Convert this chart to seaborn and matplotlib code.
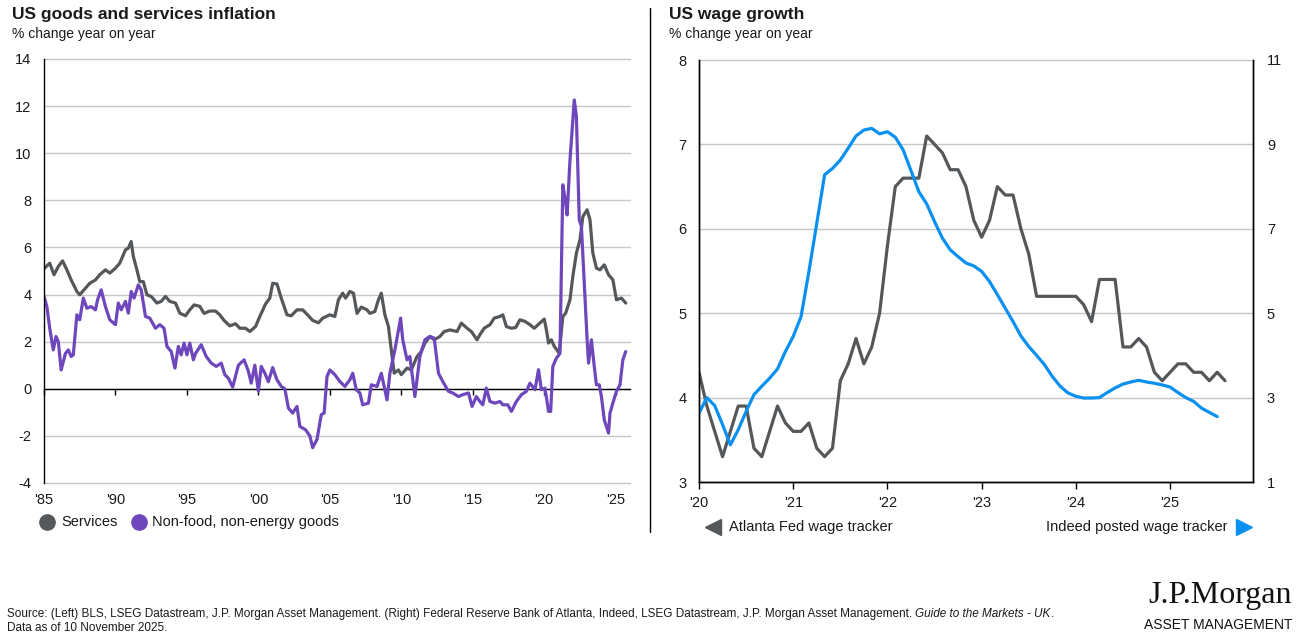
import matplotlib
matplotlib.use("Agg")
import matplotlib.pyplot as plt
import seaborn as sns
import pandas as pd
from matplotlib import font_manager
from matplotlib.lines import Line2D

# ---------------- data ----------------
svc_year = [1985.0, 1985.4, 1985.7, 1986.0, 1986.3, 1986.6, 1986.9, 1987.3, 1987.5, 1987.9,
            1988.2, 1988.6, 1988.9, 1989.3, 1989.6, 1990.0, 1990.3, 1990.7, 1990.9, 1991.1,
            1991.25, 1991.5, 1991.7, 1991.95, 1992.2, 1992.5, 1992.9, 1993.2, 1993.5, 1993.8,
            1994.2, 1994.5, 1994.9, 1995.2, 1995.5, 1995.9, 1996.2, 1996.6, 1997.0, 1997.3,
            1997.6, 1998.0, 1998.4, 1998.7, 1999.1, 1999.4, 1999.8, 2000.1, 2000.5, 2000.8,
            2001.0, 2001.3, 2001.6, 2002.0, 2002.3, 2002.7, 2003.1, 2003.5, 2003.8, 2004.2,
            2004.5, 2005.0, 2005.35, 2005.6, 2005.9, 2006.1, 2006.4, 2006.65, 2006.9, 2007.2,
            2007.6, 2007.8, 2008.15, 2008.4, 2008.6, 2008.85, 2009.1, 2009.3, 2009.5, 2009.8,
            2010.0, 2010.4, 2010.7, 2011.1, 2011.4, 2011.65, 2012.0, 2012.3, 2012.7, 2013.0,
            2013.4, 2013.9, 2014.2, 2014.6, 2014.9, 2015.3, 2015.5, 2015.8, 2016.2, 2016.5,
            2016.9, 2017.1, 2017.35, 2017.7, 2018.0, 2018.3, 2018.65, 2019.0, 2019.3, 2019.7,
            2020.0, 2020.15, 2020.3, 2020.5, 2020.7, 2021.05, 2021.3, 2021.5, 2021.8, 2022.0,
            2022.25, 2022.5, 2022.7, 2023.0, 2023.2, 2023.4, 2023.65, 2023.9, 2024.2, 2024.5,
            2024.8, 2025.05, 2025.4, 2025.7]
svc_val = [5.1, 5.33, 4.84, 5.19, 5.43, 5.05, 4.62, 4.13, 3.99, 4.27,
           4.48, 4.62, 4.84, 5.05, 4.91, 5.12, 5.33, 5.9, 5.97, 6.25,
           5.62, 5.05, 4.55, 4.55, 3.99, 3.92, 3.64, 3.71, 3.92, 3.71,
           3.64, 3.21, 3.1, 3.35, 3.56, 3.5, 3.2, 3.3, 3.3, 3.14,
           2.9, 2.67, 2.76, 2.57, 2.57, 2.43, 2.64, 3.07, 3.6, 3.85,
           4.48, 4.45, 3.85, 3.14, 3.1, 3.35, 3.35, 3.1, 2.9, 2.8,
           3.0, 3.14, 3.07, 3.78, 4.06, 3.85, 4.13, 4.06, 3.2, 3.47,
           3.35, 3.2, 3.28, 3.78, 4.06, 3.14, 2.64, 1.65, 0.66, 0.8,
           0.6, 0.88, 0.8, 1.37, 1.58, 1.94, 2.22, 2.08, 2.22, 2.43,
           2.5, 2.43, 2.79, 2.57, 2.43, 2.08, 2.3, 2.57, 2.72, 3.0,
           3.07, 3.14, 2.64, 2.57, 2.6, 2.93, 2.86, 2.72, 2.57, 2.79,
           2.96, 2.5, 1.94, 2.08, 1.8, 1.51, 3.07, 3.21, 3.78, 4.77,
           5.76, 6.32, 7.31, 7.6, 7.17, 5.76, 5.12, 5.05, 5.26, 4.84,
           4.63, 3.78, 3.85, 3.64]

gds_year = [1985.0, 1985.2, 1985.4, 1985.65, 1985.84, 1986.0, 1986.2, 1986.5, 1986.7, 1986.9,
            1987.05, 1987.3, 1987.5, 1987.75, 1988.0, 1988.3, 1988.6, 1988.75, 1989.0, 1989.3,
            1989.6, 1990.0, 1990.2, 1990.4, 1990.7, 1990.9, 1991.1, 1991.3, 1991.6, 1991.8,
            1992.1, 1992.4, 1992.8, 1993.1, 1993.4, 1993.6, 1993.9, 1994.16, 1994.4, 1994.6,
            1994.8, 1995.0, 1995.2, 1995.45, 1995.6, 1996.0, 1996.35, 1996.7, 1997.05, 1997.4,
            1997.65, 1997.9, 1998.2, 1998.6, 1999.0, 1999.3, 1999.5, 1999.75, 2000.0, 2000.2,
            2000.45, 2000.7, 2001.0, 2001.3, 2001.6, 2001.85, 2002.1, 2002.4, 2002.7, 2002.9,
            2003.3, 2003.6, 2003.8, 2004.1, 2004.4, 2004.6, 2004.8, 2005.0, 2005.35, 2005.7,
            2006.05, 2006.4, 2006.6, 2006.85, 2007.1, 2007.3, 2007.7, 2007.9, 2008.3, 2008.6,
            2009.0, 2009.2, 2009.55, 2009.95, 2010.1, 2010.4, 2010.6, 2010.95, 2011.3, 2011.65,
            2012.0, 2012.3, 2012.6, 2012.9, 2013.3, 2013.6, 2014.0, 2014.3, 2014.7, 2014.95,
            2015.25, 2015.5, 2015.7, 2015.95, 2016.2, 2016.55, 2016.9, 2017.1, 2017.45, 2017.7,
            2018.05, 2018.4, 2018.75, 2019.0, 2019.35, 2019.6, 2019.8, 2020.05, 2020.3, 2020.45,
            2020.6, 2020.85, 2021.1, 2021.3, 2021.5, 2021.6, 2021.8, 2022.0, 2022.1, 2022.25,
            2022.45, 2022.6, 2022.8, 2023.0, 2023.1, 2023.3, 2023.5, 2023.65, 2023.85, 2024.0,
            2024.2, 2024.5, 2024.6, 2024.8, 2025.05, 2025.3, 2025.5, 2025.7]
gds_val = [3.93, 3.49, 2.57, 1.65, 2.22, 2.0, 0.8, 1.5, 1.65, 1.37,
           1.44, 3.14, 2.93, 3.85, 3.42, 3.49, 3.35, 3.78, 4.2, 3.49,
           2.93, 2.72, 3.64, 3.35, 3.71, 3.21, 4.13, 3.85, 4.41, 4.2,
           3.07, 3.0, 2.57, 2.72, 2.57, 1.8, 1.58, 0.88, 1.8, 1.44,
           1.94, 1.44, 1.94, 1.23, 1.5, 1.87, 1.37, 1.09, 0.95, 1.09,
           0.6, 0.45, 0.07, 1.0, 1.23, 0.74, 0.24, 1.0, -0.1, 0.95,
           0.66, 0.3, 0.9, 0.38, 0.1, 0.0, -0.82, -1.03, -0.75, -1.6,
           -1.74, -2.0, -2.5, -2.15, -1.1, -1.03, 0.52, 0.8, 0.6, 0.31,
           0.1, 0.38, 0.66, -0.04, -0.18, -0.68, -0.61, 0.17, 0.1, 0.66,
           -0.47, 0.66, 1.65, 3.0, 2.08, 1.23, 1.37, -0.33, 1.37, 2.08,
           2.22, 2.15, 0.66, 0.31, -0.11, -0.18, -0.33, -0.25, -0.18, -0.75,
           -0.33, -0.54, -0.68, 0.03, -0.54, -0.61, -0.54, -0.68, -0.68, -0.96,
           -0.54, -0.25, -0.11, 0.24, -0.04, 0.81, -0.04, 0.03, -0.96, -0.96,
           0.95, 1.3, 1.5, 8.66, 7.88, 7.38, 9.7, 11.4, 12.26, 11.55,
           7.17, 6.9, 4.5, 2.08, 1.09, 2.08, 0.95, 0.17, 0.17, -0.33,
           -1.32, -1.88, -1.03, -0.61, -0.11, 0.17, 1.23, 1.58]

left_xticks = [1985, 1990, 1995, 2000, 2005, 2010, 2015, 2020, 2025]
left_xlabels = ["'85", "'90", "'95", "'00", "'05", "'10", "'15", "'20", "'25"]

# monthly, starting Jan 2020
atl_start = 2020
atl_val = [4.3, 3.9, 3.6, 3.3, 3.6, 3.9, 3.9, 3.4, 3.3, 3.6, 3.9, 3.7,
           3.6, 3.6, 3.7, 3.4, 3.3, 3.4, 4.2, 4.4, 4.7, 4.4, 4.6, 5.0,
           5.8, 6.5, 6.6, 6.6, 6.6, 7.1, 7.0, 6.9, 6.7, 6.7, 6.5, 6.1,
           5.9, 6.1, 6.5, 6.4, 6.4, 6.0, 5.7, 5.2, 5.2, 5.2, 5.2, 5.2,
           5.2, 5.1, 4.9, 5.4, 5.4, 5.4, 4.6, 4.6, 4.7, 4.6, 4.3, 4.2,
           4.3, 4.4, 4.4, 4.3, 4.3, 4.2, 4.3, 4.2]
ind_val = [2.63, 3.0, 2.81, 2.36, 1.88, 2.24, 2.67, 3.07, 3.27, 3.46, 3.68, 4.09,
           4.45, 4.92, 5.99, 7.13, 8.28, 8.43, 8.63, 8.91, 9.2, 9.34, 9.38, 9.25,
           9.3, 9.17, 8.87, 8.38, 7.88, 7.59, 7.17, 6.78, 6.5, 6.34, 6.19, 6.12,
           5.99, 5.75, 5.44, 5.12, 4.8, 4.46, 4.21, 4.0, 3.78, 3.5, 3.27, 3.11,
           3.03, 2.99, 2.99, 3.0, 3.12, 3.23, 3.32, 3.37, 3.41, 3.37, 3.34, 3.3,
           3.25, 3.12, 3.0, 2.91, 2.75, 2.65, 2.55]
right_xticks = [2020, 2021, 2022, 2023, 2024, 2025]
right_xlabels = ["'20", "'21", "'22", "'23", "'24", "'25"]

# ---------------- style ----------------
sns.set_theme(style="white")
names = {f.name for f in font_manager.fontManager.ttflist}
NARROW = "Liberation Sans Narrow" if "Liberation Sans Narrow" in names else "Liberation Sans"
plt.rcParams["font.family"] = ["Liberation Sans", "DejaVu Sans"]
plt.rcParams["axes.unicode_minus"] = False

GRAY = "#55585B"
PURPLE = "#6E47BD"
BLUE = "#0A90F0"
GRID = "#C6C6C6"
TXT = "#1A1A1A"

W, H = 1303, 643
fig = plt.figure(figsize=(W / 100, H / 100), dpi=100)
fig.patch.set_facecolor("white")


def px(x, y):
    return x / W, 1 - y / H


# ---------------- left chart ----------------
ax1 = fig.add_axes([44 / W, 1 - 483 / H, 586 / W, 424 / H])
dsvc = pd.DataFrame({"year": svc_year, "val": svc_val})
dgds = pd.DataFrame({"year": gds_year, "val": gds_val})
sns.lineplot(data=dsvc, x="year", y="val", ax=ax1, color=GRAY, lw=2.3, estimator=None, sort=False)
sns.lineplot(data=dgds, x="year", y="val", ax=ax1, color=PURPLE, lw=2.3, estimator=None, sort=False)
ax1.set_xlim(1985, 2026)
ax1.set_ylim(-4, 14)
ax1.set_yticks(range(-4, 15, 2))
ax1.set_xlabel("")
ax1.set_ylabel("")
ax1.yaxis.grid(True, color=GRID, lw=1)
ax1.xaxis.grid(False)
ax1.set_axisbelow(True)
for s in ["top", "right"]:
    ax1.spines[s].set_visible(False)
ax1.spines["left"].set_color("black")
ax1.spines["left"].set_linewidth(1)
ax1.spines["bottom"].set_position(("data", 0))
ax1.spines["bottom"].set_color("black")
ax1.spines["bottom"].set_linewidth(1)
ax1.spines["bottom"].set_zorder(1.5)
ax1.set_xticks(left_xticks)
ax1.tick_params(axis="x", bottom=True, direction="out", length=4, width=1, color="black", labelbottom=False)
ax1.tick_params(axis="y", left=False, length=0, pad=9, labelsize=10.5, labelcolor=TXT)
for gl in ax1.get_ygridlines():
    gl.set_clip_on(False)
sec = ax1.secondary_xaxis("bottom")
sec.set_xticks(left_xticks, labels=left_xlabels)
sec.tick_params(length=0, pad=7, labelsize=10.5, labelcolor=TXT)
sec.spines["bottom"].set_visible(False)

# ---------------- right chart ----------------
ax2 = fig.add_axes([699 / W, 1 - 482 / H, 554 / W, 422 / H])
ax2r = ax2.twinx()
atl_x = [atl_start + i / 12 for i in range(len(atl_val))]
ind_x = [atl_start + i / 12 for i in range(len(ind_val))]
sns.lineplot(x=atl_x, y=atl_val, ax=ax2, color=GRAY, lw=2.3, estimator=None, sort=False)
sns.lineplot(x=ind_x, y=ind_val, ax=ax2r, color=BLUE, lw=2.3, estimator=None, sort=False)
ax2.set_xlim(2020, 2025.88)
ax2.set_ylim(3, 8)
ax2r.set_ylim(1, 11)
ax2.set_yticks(range(3, 9))
ax2r.set_yticks(range(1, 12, 2))
ax2.yaxis.grid(True, color=GRID, lw=1)
ax2.xaxis.grid(False)
ax2r.grid(False)
ax2.set_axisbelow(True)
for gl in ax2.get_ygridlines():
    gl.set_clip_on(False)
for a in (ax2, ax2r):
    a.spines["top"].set_visible(False)
    for s in ["left", "right", "bottom"]:
        a.spines[s].set_color("black")
        a.spines[s].set_linewidth(1)
ax2.set_xticks(right_xticks, labels=right_xlabels)
ax2.tick_params(axis="x", bottom=True, direction="out", length=5, width=1, color="black",
                pad=5, labelsize=10.5, labelcolor=TXT)
ax2.tick_params(axis="y", left=False, length=0, pad=9, labelsize=10.5, labelcolor=TXT)
ax2r.tick_params(axis="y", right=False, length=0, pad=10, labelsize=10.5, labelcolor=TXT)
ax2r.set_ylabel("")
ax2.set_ylabel("")

# ---------------- titles ----------------
fig.text(*px(12, 15), "US goods and services inflation", fontsize=12.5, fontweight="bold",
         color=TXT, va="center", ha="left")
fig.text(*px(12, 34), "% change year on year", fontsize=10, color=TXT, va="center", ha="left")
fig.text(*px(669, 15), "US wage growth", fontsize=12.5, fontweight="bold",
         color=TXT, va="center", ha="left")
fig.text(*px(669, 34), "% change year on year", fontsize=10, color=TXT, va="center", ha="left")

# divider
fig.add_artist(Line2D([650 / W, 650 / W], [1 - 8 / H, 1 - 532 / H], color="black", lw=1,
                      transform=fig.transFigure))

# ---------------- legends ----------------
fig.add_artist(Line2D([47 / W], [1 - 522 / H], marker="o", ms=11, color=GRAY, ls="",
                      transform=fig.transFigure))
fig.text(*px(61, 522), "Services", fontsize=10.5, color=TXT, va="center", ha="left")
fig.add_artist(Line2D([139 / W], [1 - 522 / H], marker="o", ms=11, color=PURPLE, ls="",
                      transform=fig.transFigure))
fig.text(*px(152, 522), "Non-food, non-energy goods", fontsize=10.5, color=TXT, va="center", ha="left")

fig.add_artist(Line2D([713 / W], [1 - 527 / H], marker="<", ms=12, color=GRAY, ls="",
                      transform=fig.transFigure))
fig.text(*px(729, 527), "Atlanta Fed wage tracker", fontsize=10.5, color=TXT, va="center", ha="left")
fig.add_artist(Line2D([1244 / W], [1 - 527 / H], marker=">", ms=12, color=BLUE, ls="",
                      transform=fig.transFigure))
fig.text(*px(1228, 527), "Indeed posted wage tracker", fontsize=10.5, color=TXT, va="center", ha="right")

# ---------------- footer ----------------
foot1 = ("Source: (Left) BLS, LSEG Datastream, J.P. Morgan Asset Management. (Right) Federal Reserve "
         "Bank of Atlanta, Indeed, LSEG Datastream, J.P. Morgan Asset Management. ")
foot_it = "Guide to the Markets - UK"
fs = 8.45
t1 = fig.text(*px(7, 614), foot1, fontsize=fs, family=NARROW, color=TXT, va="center", ha="left")
fig.canvas.draw()
r = fig.canvas.get_renderer()
bb = t1.get_window_extent(r)
t2 = fig.text(bb.x1 / W, 1 - 614 / H, foot_it, fontsize=fs, family=NARROW, style="italic",
              color=TXT, va="center", ha="left")
bb2 = t2.get_window_extent(r)
fig.text(bb2.x1 / W, 1 - 614 / H, ".", fontsize=fs, family=NARROW, color=TXT, va="center", ha="left")
fig.text(*px(7, 628), "Data as of 10 November 2025.", fontsize=fs, family=NARROW, color=TXT,
         va="center", ha="left")

fig.text(*px(1292, 595), "J.P.Morgan", fontsize=23, family="Liberation Serif", color="#111111",
         va="center", ha="right")
fig.text(*px(1292, 625), "ASSET MANAGEMENT", fontsize=10, family=NARROW, color="#111111",
         va="center", ha="right")

fig.savefig("out.png", dpi=100, facecolor="white")
